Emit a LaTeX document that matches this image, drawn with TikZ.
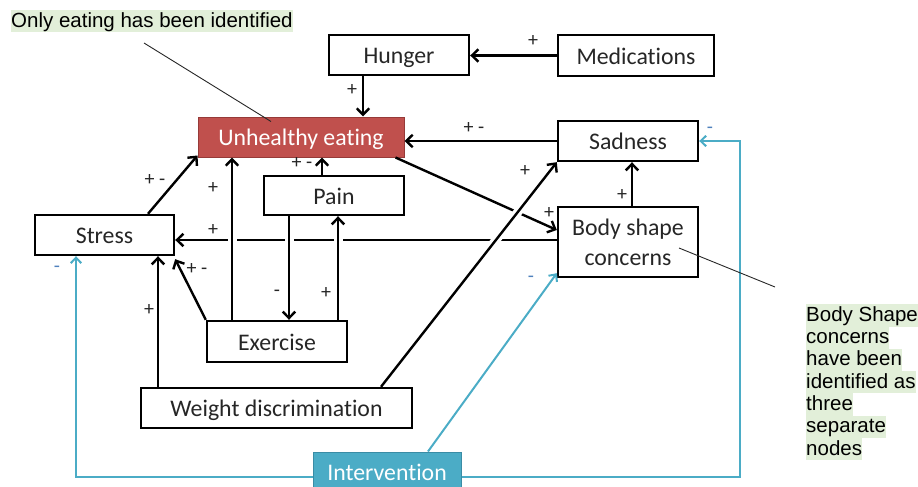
\documentclass[tikz,border=0pt]{standalone}
\usepackage{fontspec}
\setmainfont{Carlito}[Ligatures=NoCommon]
\newfontfamily\notefont{Liberation Sans}
\usetikzlibrary{arrows.meta}
\definecolor{eatred}{RGB}{192,80,77}
\definecolor{eatedge}{RGB}{150,58,56}
\definecolor{intblue}{RGB}{75,172,198}
\definecolor{intedge}{RGB}{58,140,165}
\definecolor{minusblue}{RGB}{79,129,189}
\definecolor{hlgreen}{RGB}{226,239,217}
\definecolor{boxtext}{RGB}{38,38,38}
% one highlighted line of note text
\newcommand\hlline[1]{{\setlength\fboxsep{0pt}\colorbox{hlgreen}{\rule[-5.3pt]{0pt}{22.3pt}#1}}}

\begin{document}
\begin{tikzpicture}[x=1pt,y=-1pt,
  box/.style={draw=black, line width=2.4pt, fill=white, text=boxtext, inner sep=0pt,
    align=center, text height=18.5pt, text depth=1.5pt, font=\fontsize{23.8}{30}\selectfont},
  eatbox/.style={box, draw=eatedge, line width=1pt, fill=eatred, text=white},
  intbox/.style={box, draw=intedge, line width=1pt, fill=intblue, text=white},
  arr/.style={line width=2.4pt, -{Straight Barb[length=6.5pt,width=12.5pt]}},
  barr/.style={draw=intblue, line width=2pt, -{Straight Barb[length=5.5pt,width=10.5pt]}},
  gap/.style={preaction={draw=white, line width=9pt, shorten <=9pt, shorten >=12pt, arrows=-}},
  lbl/.style={text=boxtext, inner sep=0pt, font=\fontsize{20}{22}\selectfont},
  blbl/.style={lbl, text=minusblue},
  note/.style={inner sep=0pt, text=black, align=left, font=\notefont\fontsize{20.5}{22.3}\selectfont},
  pointer/.style={draw=black!85, line width=0.9pt}
]
\path[use as bounding box] (0,0) rectangle (918,487);
\clip (0,0) rectangle (918,487);

% factor boxes
\node[box, minimum width=140pt, minimum height=40pt] (hunger) at (399,55) {Hunger};
\node[box, minimum width=156pt, minimum height=41pt] (med) at (636,55.5) {Medications};
\node[eatbox, minimum width=206pt, minimum height=40pt] (eat) at (301,137) {Unhealthy eating};
\node[box, minimum width=140pt, minimum height=40pt] (sad) at (628,141) {Sadness};
\node[box, minimum width=140pt, minimum height=70pt, text height=48.5pt, text depth=2.5pt] (body) at (628,242) {Body shape\\concerns};
\node[box, minimum width=140pt, minimum height=39pt] (pain) at (334,195.5) {Pain};
\node[box, minimum width=139pt, minimum height=40pt] (stress) at (104.5,235) {Stress};
\node[box, minimum width=140pt, minimum height=41pt] (ex) at (277,341.5) {Exercise};
\node[box, minimum width=271pt, minimum height=40pt] (wd) at (276.5,408) {Weight discrimination};
\node[intbox, minimum width=148pt, minimum height=40pt] (int) at (387,472) {Intervention};

% links that get crossed by others
\draw[arr] ([yshift=2pt]body.west) -- ([yshift=2pt]body.west -| stress.east);
\draw[arr] ([xshift=-9pt]eat.south east) -- ([yshift=12pt]body.west);

% remaining causal links
\draw[arr] (med.west) -- (med.west -| hunger.east);
\draw[arr] ([xshift=-36pt]hunger.south) -- ([xshift=-36pt]hunger.south |- eat.north);
\draw[arr] (sad.west) -- (sad.west -| eat.east);
\draw[arr] ([xshift=4pt]body.north) -- ([xshift=4pt]sad.south);
\draw[arr, gap] ([xshift=104.5pt]wd.north) -- (sad.south west);
\draw[arr] ([xshift=43.5pt]stress.north) -- ([yshift=2pt]eat.south west);
\draw[arr, gap] ([xshift=-45pt]ex.north) -- ([xshift=-45pt]ex.north |- eat.south);
\draw[arr] ([xshift=-12pt]pain.north) -- ([xshift=-12pt]pain.north |- eat.south);
\draw[arr, gap] ([xshift=-45pt]pain.south) -- ([xshift=-45pt]pain.south |- ex.north);
\draw[arr, gap] ([xshift=61pt]ex.north) -- ([xshift=61pt]ex.north |- pain.south);
\draw[arr] (ex.north west) -- ([yshift=-3pt]stress.south east);
\draw[arr] ([xshift=-118.5pt]wd.north) -- ([xshift=-118.5pt]wd.north |- stress.south);

% intervention links
\draw[barr] ([yshift=-5pt]int.west) -| ([xshift=-28.5pt]stress.south);
\draw[barr] ([xshift=41pt]int.north) -- ([yshift=5pt]body.south west);
\draw[barr] ([yshift=-5pt]int.east) -| ([xshift=41pt]sad.east) -- (sad.east);

% polarity labels
\node[lbl] (l1) at (533,41) {+};
\node[lbl] (l2) at (352,90) {+};
\node[lbl] (l3) at (474,128) {+ -};
\node[lbl] (l4) at (549,213) {+};
\node[lbl] (l5) at (622,195) {+};
\node[lbl] (l6) at (525,171) {+};
\node[lbl] (l7) at (213,230) {+};
\node[lbl] (l8) at (155,180) {+ -};
\node[lbl] (l9) at (213,188) {+};
\node[lbl] (l10) at (302,163) {+ -};
\node[lbl] (l11) at (277,293) {-};
\node[lbl] (l12) at (326,293) {+};
\node[lbl] (l13) at (197,269) {+ -};
\node[lbl] (l14) at (149,310) {+};
\node[blbl] (l15) at (57,269) {-};
\node[blbl] (l16) at (531,279) {-};
\node[blbl] (l17) at (710,130) {-};

% notes
\node[note, anchor=north west] (note1) at (11,10) {\hlline{Only eating has been identified}};
\coordinate (n1tail) at (144,43);
\draw[pointer] (n1tail) -- ([xshift=-30pt,yshift=-5pt]eat.north);

\node[note, anchor=north west] (note2) at (806,304) {\hlline{Body Shape}\\\hlline{concerns}\\\hlline{have been}\\\hlline{identified as}\\\hlline{three}\\\hlline{separate}\\\hlline{nodes}};
\coordinate (n2tail) at (775,287);
\draw[pointer] ([xshift=51pt,yshift=-6pt]body.center) -- (n2tail);
\end{tikzpicture}
\end{document}
